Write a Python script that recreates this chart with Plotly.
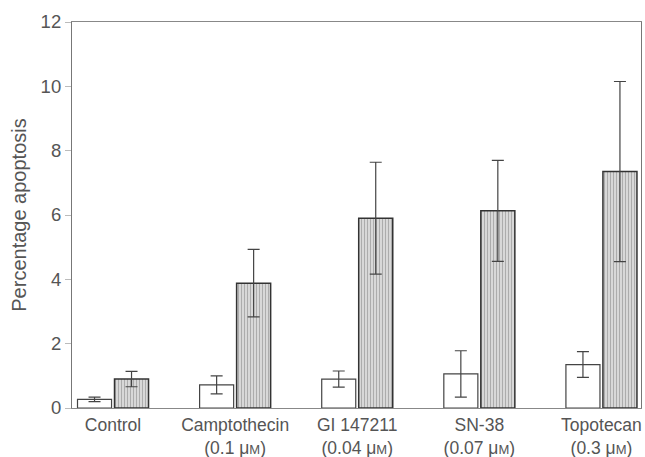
import plotly.graph_objects as go

categories = ["Control", "Camptothecin<br>(0.1 μ<span style='font-size:13px'>M</span>)",
              "GI 147211<br>(0.04 μ<span style='font-size:13px'>M</span>)",
              "SN-38<br>(0.07 μ<span style='font-size:13px'>M</span>)",
              "Topotecan<br>(0.3 μ<span style='font-size:13px'>M</span>)"]
white_vals = [0.27, 0.72, 0.90, 1.06, 1.35]
white_err = [0.07, 0.28, 0.25, 0.72, 0.40]
gray_vals = [0.90, 3.88, 5.90, 6.13, 7.35]
gray_err = [0.24, 1.05, 1.74, 1.57, 2.80]
y_ticks = [0, 2, 4, 6, 8, 10, 12]

x = list(range(len(categories)))

fig = go.Figure()
fig.add_trace(go.Bar(
    x=x, y=white_vals,
    marker=dict(color="white", line=dict(color="#444", width=1.2)),
    error_y=dict(type="data", array=white_err, color="#444", thickness=1.2, width=6),
    showlegend=False,
))
fig.add_trace(go.Bar(
    x=x, y=gray_vals,
    marker=dict(color="#cfcfcf", line=dict(color="#333", width=1.5),
                pattern=dict(shape="|", fgcolor="#777", bgcolor="#e0e0e0", size=3, solidity=0.45)),
    error_y=dict(type="data", array=gray_err, color="#444", thickness=1.2, width=6),
    showlegend=False,
))

fig.update_layout(
    width=645, height=457,
    margin=dict(l=72, r=4, t=22, b=49),
    paper_bgcolor="white", plot_bgcolor="white",
    barmode="group", bargap=0.394, bargroupgap=0.08,
    font=dict(family="Arial, Liberation Sans, sans-serif", size=18, color="#555"),
    xaxis=dict(range=[-0.336, 4.324], tickvals=x, ticktext=categories,
               showline=True, mirror=True, linecolor="#888", linewidth=1,
               ticks="", showgrid=False, zeroline=False, automargin=False,
               ticklabelstandoff=1,
               tickfont=dict(size=17.5, color="#555")),
    yaxis=dict(range=[0, 12], tickvals=y_ticks, showline=True, mirror=True,
               linecolor="#777", linewidth=1.2, ticks="outside", ticklen=6,
               tickcolor="#bbb", showgrid=False, zeroline=False, automargin=False,
               tickfont=dict(size=18.5, color="#555"),
               title=dict(text="Percentage apoptosis", font=dict(size=20, color="#555"), standoff=8)),
)

fig.write_html("out.html", config={"displayModeBar": False},
               post_script="document.body.style.margin='0';document.body.style.overflow='hidden';")
